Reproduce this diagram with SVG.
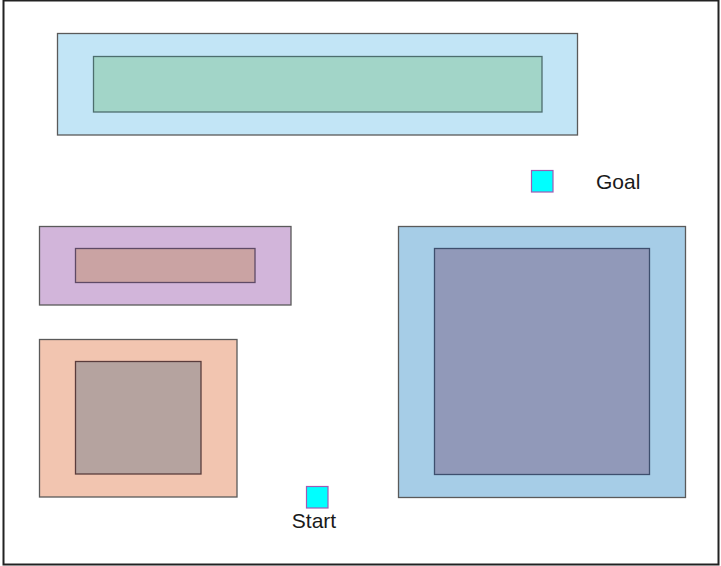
<svg xmlns="http://www.w3.org/2000/svg" width="721" height="566" viewBox="0 0 721 566">
<style>
.o{stroke:#5a5a5a;stroke-width:1.3}
.i{stroke-width:1.3}
.m{fill:#00ffff;stroke:#a05ab4;stroke-width:1.2}
text{font-family:"Liberation Sans",Arial,sans-serif;font-size:21px;fill:#1a1a1a}
</style>
<rect x="3.5" y="0.5" width="715" height="564" fill="#ffffff" stroke="#222" stroke-width="2"/>
<g id="top">
<rect class="o" x="57.5" y="33.5" width="520" height="101.5" fill="#c2e5f6"/>
<rect class="i" x="93.5" y="56.5" width="448.5" height="55.5" fill="#a2d5c8" stroke="#4d6e6e"/>
</g>
<g id="purple">
<rect class="o" x="39.5" y="226.5" width="251.5" height="78.5" fill="#d2b5da"/>
<rect class="i" x="75.5" y="248.5" width="179.5" height="34" fill="#caa3a3" stroke="#5f4a66"/>
</g>
<g id="orange">
<rect class="o" x="39.5" y="339.5" width="197.5" height="157.5" fill="#f2c5b0"/>
<rect class="i" x="75.5" y="361.5" width="125.5" height="112.5" fill="#b5a39f" stroke="#5a3c3c"/>
</g>
<g id="blue">
<rect class="o" x="398.5" y="226.5" width="287" height="271" fill="#a6cde7"/>
<rect class="i" x="434.5" y="248.5" width="215" height="226" fill="#9199b9" stroke="#3e4f6e"/>
</g>
<g id="goal">
<rect class="m" x="531.5" y="170.5" width="21.5" height="21.5"/>
<text x="596" y="189">Goal</text>
</g>
<g id="start">
<rect class="m" x="306.5" y="486.5" width="21.5" height="21.5"/>
<text x="314" y="528" text-anchor="middle">Start</text>
</g>
<g id="connectors"></g>
</svg>
